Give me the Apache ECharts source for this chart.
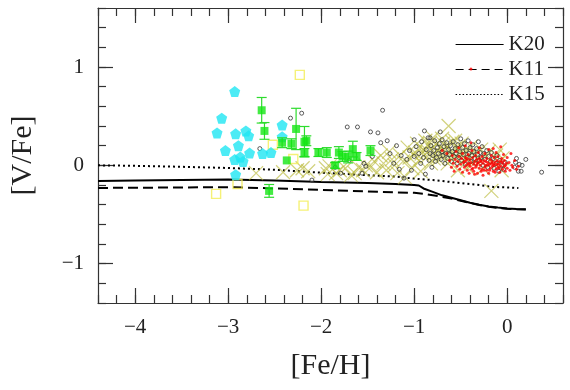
<!DOCTYPE html>
<html>
<head>
<meta charset="utf-8">
<script src="https://cdn.jsdelivr.net/npm/echarts@6/dist/echarts.min.js"></script>
<style>html,body{margin:0;padding:0;background:#fff}#c{width:570px;height:390px}</style>
</head>
<body>
<div id="c"></div>
<script>
// ---- axis ticks ----
const xMajorTicks = [-4, -3, -2, -1, 0];
const yMajorTicks = [-1, 0, 1];

// ---- model curves ----
const k20 = [[-4.4,-0.16],[-4.0,-0.155],[-3.5,-0.15],[-3.0,-0.145],[-2.5,-0.155],[-2.0,-0.17],[-1.5,-0.18],[-1.2,-0.19],[-1.0,-0.2],[-0.95,-0.205],[-0.9,-0.235],[-0.8,-0.27],[-0.7,-0.305],[-0.6,-0.33],[-0.5,-0.355],[-0.4,-0.38],[-0.3,-0.40],[-0.2,-0.418],[-0.1,-0.43],[0.0,-0.44],[0.1,-0.445],[0.2,-0.447]];
const k11 = [[-4.4,-0.23],[-4.0,-0.228],[-3.5,-0.225],[-3.0,-0.222],[-2.5,-0.235],[-2.0,-0.25],[-1.5,-0.265],[-1.2,-0.275],[-1.0,-0.28],[-0.9,-0.29],[-0.8,-0.305],[-0.7,-0.32],[-0.6,-0.338],[-0.5,-0.36],[-0.4,-0.383],[-0.3,-0.403],[-0.2,-0.42],[-0.1,-0.432],[0.0,-0.441],[0.1,-0.446],[0.2,-0.448]];
const k15 = [[-4.4,0.0],[-4.0,-0.005],[-3.5,-0.015],[-3.0,-0.027],[-2.5,-0.045],[-2.0,-0.075],[-1.5,-0.10],[-1.2,-0.115],[-1.0,-0.135],[-0.8,-0.15],[-0.6,-0.17],[-0.5,-0.18],[-0.3,-0.20],[-0.15,-0.22],[0.0,-0.225],[0.12,-0.23]];

// ---- observations ----
const cyanPent = [[-2.93,0.75],[-3.07,0.48],[-3.12,0.33],[-2.92,0.32],[-2.81,0.35],[-2.78,0.30],[-2.89,0.20],[-3.03,0.15],[-2.77,0.125],[-2.63,0.12],[-2.54,0.13],[-2.87,0.085],[-2.93,0.06],[-2.84,0.04],[-2.92,-0.095],[-2.42,0.41],[-2.42,0.29]];

const greenSq = [[-2.64,0.56,0.13],[-2.61,0.35,0.085],[-2.56,-0.26,0.065],[-2.42,0.23,0.05],[-2.37,0.05,0.0],[-2.32,0.22,0.05],[-2.27,0.37,0.21],[-2.18,0.24,0.155],[-2.16,0.25,0.05],[-2.18,0.13,0.04],[-2.03,0.13,0.04],[-1.94,0.13,0.05],[-1.85,0.0,0.03],[-1.81,0.13,0.06],[-1.77,0.09,0.05],[-1.71,0.085,0.06],[-1.66,0.165,0.08],[-1.62,0.09,0.04],[-1.47,0.15,0.05]];

const yellowSq = [[-2.23,0.92],[-3.13,-0.29],[-2.19,-0.41],[-2.90,-0.19],[-2.52,0.21],[-2.30,0.065]];

const oliveX = [[-2.70,-0.08],[-2.41,-0.07],[-2.26,-0.05],[-2.20,-0.03],[-2.14,-0.06],[-1.95,-0.03],[-1.91,-0.01],[-1.93,-0.09],[-1.84,-0.08],[-1.80,-0.05],[-1.74,-0.03],[-1.68,-0.10],[-1.64,-0.08],[-1.60,-0.02],[-1.55,-0.05],[-1.52,0.00],[-1.47,-0.02],[-1.43,0.04],[-1.40,-0.07],
[-1.36,0.10],[-1.33,0.02],[-1.30,-0.05],[-1.27,0.14],[-1.24,0.06],[-1.21,0.00],[-1.18,-0.08],[-1.15,0.10],[-1.12,0.04],[-1.10,-0.12],[-1.07,0.18],[-1.05,0.08],[-1.02,-0.03],[-0.99,0.13],[-0.97,0.22],[-0.95,0.05],[-0.93,-0.06],
[-0.90,0.16],[-0.88,0.25],[-0.86,0.09],[-0.84,0.19],[-0.82,0.02],[-0.80,0.28],[-0.78,0.12],[-0.76,0.22],[-0.74,0.06],[-0.72,0.17],[-0.70,0.27],[-0.68,0.10],[-0.66,0.20],[-0.64,0.02],[-0.63,0.40],[-0.61,0.14],[-0.59,0.24],[-0.57,0.08],[-0.55,0.18],[-0.53,-0.05],[-0.51,0.12],[-0.49,0.22],[-0.47,0.05],[-0.45,0.15],[-0.43,-0.02],[-0.41,0.10],[-0.39,0.19],[-0.37,0.03],
[-0.34,0.12],[-0.31,0.06],[-0.28,0.16],[-0.26,-0.03],[-0.23,0.09],[-0.20,0.14],[-0.17,-0.26],[-0.15,0.04],[-0.12,0.10],[-0.09,0.03],[-0.06,-0.05],[-0.08,0.16],[-0.05,0.07],
[-1.00,0.10],[-0.92,0.12],[-0.85,0.14],[-0.79,0.07],[-0.73,0.12],[-0.67,0.15],[-0.62,0.08],[-0.58,0.13],[-0.52,0.17],[-0.48,0.10],[-0.44,0.08],[-0.38,0.12],[-0.83,0.23],[-0.69,0.22],[-0.56,0.25]];

const blackCirc = [[-2.66,0.17],[-2.33,0.48],[-2.21,0.53],[-2.10,-0.15],[-1.79,-0.08],[-1.72,0.39],[-1.61,0.39],[-1.47,0.34],[-1.39,0.33],[-1.34,0.56],[-1.36,0.23],[-1.29,0.25],[-1.54,0.02],[-1.52,-0.01],[-1.56,-0.08],[-1.85,-0.02],[-1.70,0.05],[-1.45,0.09],[-1.26,0.12],[-1.22,0.02],[-1.19,0.20],[-1.16,-0.04],[-1.14,0.10],[-1.11,-0.13],[-1.08,0.06],[-1.05,0.15],[-1.03,-0.05],[-1.00,0.09],[-0.98,0.19],[-1.00,0.26],[-0.83,0.28],
[-0.95,0.12],[-0.93,0.02],[-0.92,0.24],[-0.90,0.08],[-0.89,0.35],[-0.88,-0.09],[-0.87,0.16],[-0.85,0.28],[-0.84,0.05],[-0.83,0.12],[-0.82,0.20],[-0.81,-0.02],[-0.80,0.10],[-0.79,0.15],[-0.78,0.25],[-0.77,0.04],[-0.76,0.08],[-0.75,0.18],[-0.74,0.12],[-0.73,0.22],[-0.72,0.34],[-0.71,0.06],[-0.70,0.14],[-0.70,0.26],[-0.69,0.10],[-0.68,0.19],[-0.67,0.02],[-0.66,0.12],[-0.65,0.23],[-0.64,0.07],[-0.63,0.16],[-0.62,0.11],[-0.61,0.20],[-0.60,0.04],[-0.59,0.14],[-0.58,0.24],[-0.57,0.09],[-0.56,0.17],[-0.55,0.12],[-0.54,0.02],[-0.53,0.21],[-0.52,0.08],[-0.51,0.14],[-0.50,0.27],[-0.49,0.05],[-0.48,0.18],[-0.47,0.11],[-0.46,0.22],[-0.45,0.01],[-0.44,0.15],[-0.43,0.08],[-0.42,0.25],[-0.41,0.12],[-0.40,0.18],[-0.39,0.04],[-0.38,0.10],[-0.37,0.21],[-0.36,0.14],[-0.35,0.07],[-0.34,0.02],[-0.33,0.17],[-0.32,0.11],[-0.31,0.24],[-0.30,0.05],[-0.29,0.13],[-0.28,0.08],[-0.27,0.19],[-0.26,0.00],[-0.25,0.12],[-0.24,0.06],[-0.22,0.15],[-0.21,-0.02],[-0.20,0.09],[-0.18,0.04],[-0.17,0.13],[-0.15,0.07],[-0.14,-0.03],[-0.12,0.02],[-0.11,0.10],[-0.09,-0.06],[-0.08,0.05],[-0.06,0.00],[-0.04,-0.04],[-0.02,0.03],
[0.08,-0.02],[0.09,0.03],[0.10,0.07],[0.12,-0.06],[0.13,0.01],[0.15,-0.06],[0.16,0.00],[0.20,0.06],[0.37,-0.07]];

const redDot = [[-0.62,0.05],[-0.60,-0.02],[-0.59,0.10],[-0.58,0.02],[-0.57,-0.06],[-0.56,0.06],[-0.55,0.14],[-0.54,-0.01],[-0.53,0.04],[-0.52,0.09],[-0.51,-0.04],[-0.50,0.01],[-0.49,0.07],[-0.48,-0.07],[-0.48,0.12],[-0.47,0.03],[-0.46,-0.02],[-0.45,0.08],[-0.44,0.00],[-0.44,0.05],[-0.43,-0.05],[-0.42,0.11],[-0.42,0.02],[-0.41,-0.08],[-0.40,0.06],[-0.40,-0.01],[-0.39,0.03],[-0.38,0.15],[-0.38,-0.04],[-0.37,0.08],[-0.36,0.01],[-0.36,-0.06],[-0.35,0.04],[-0.34,0.10],[-0.34,-0.02],[-0.33,0.06],[-0.32,-0.08],[-0.32,0.02],[-0.31,0.13],[-0.30,-0.03],[-0.30,0.07],[-0.29,0.00],[-0.28,0.04],[-0.28,-0.06],[-0.27,0.09],[-0.26,0.02],[-0.26,-0.10],[-0.25,0.05],[-0.24,-0.02],[-0.24,0.12],[-0.23,0.00],[-0.22,0.07],[-0.22,-0.05],[-0.21,0.03],[-0.20,0.16],[-0.20,-0.08],[-0.19,0.01],[-0.18,0.06],[-0.18,-0.03],[-0.17,0.10],[-0.16,-0.01],[-0.16,0.04],[-0.15,-0.06],[-0.14,0.08],[-0.14,0.00],[-0.13,0.03],[-0.12,-0.04],[-0.12,0.13],[-0.11,0.05],[-0.10,-0.02],[-0.10,0.09],[-0.09,0.01],[-0.08,-0.07],[-0.08,0.04],[-0.07,0.19],[-0.07,-0.01],[-0.06,0.07],[-0.05,0.02],[-0.05,-0.04],[-0.04,0.11],[-0.03,-0.01],[-0.03,0.05],[-0.02,-0.06],[-0.01,0.02],[0.00,0.08],[0.00,-0.03],[0.02,0.03],[0.03,-0.05],[0.04,0.12],[0.05,0.00],[0.06,-0.02],[0.08,0.05],[0.10,-0.04],[0.12,-0.01],[-0.65,0.12],[-0.70,0.15],[-0.52,0.18],[-0.45,0.20],[-0.30,0.18],[-0.15,0.17],[-0.39,0.23],[-0.39,0.98],
[-0.46,0.04],[-0.41,0.01],[-0.37,-0.03],[-0.33,0.00],[-0.29,0.05],[-0.25,-0.05],[-0.21,0.00],[-0.17,0.02],[-0.13,-0.07],[-0.11,0.01],[-0.06,0.04],[-0.02,0.00],[-0.35,-0.09],[-0.27,-0.04],[-0.19,-0.05],[-0.09,-0.03],[-0.43,0.07],[-0.31,0.03],[-0.23,0.04],[-0.15,0.01]];

const FONT = 'Liberation Serif';
const minusFmt = v => (v < 0 ? '\u2212' + Math.abs(v) : String(v));

const pentagon = 'path://M50,0 L97.6,34.5 L79.4,90.5 L20.6,90.5 L2.4,34.5 Z';
const xShape = 'path://M0,0 L10,10 M10,0 L0,10';

function xAxisDef(pos, major, showLabel, showName) {
  const base = {
    type: 'value', position: pos, min: -4.4, max: 0.6,
    splitLine: { show: false },
    axisLine: { show: major, onZero: false, lineStyle: { color: '#333', width: 1.2 } },
  };
  if (major) {
    base.axisTick = { show: true, inside: true, length: 15, customValues: xMajorTicks, lineStyle: { color: '#333', width: 1.2 } };
    base.axisLabel = { show: showLabel, customValues: xMajorTicks, formatter: minusFmt, margin: 14, fontFamily: FONT, fontSize: 21, color: '#222' };
  } else {
    base.interval = 0.2;
    base.axisTick = { show: true, inside: true, length: 8, lineStyle: { color: '#333', width: 1.2 } };
    base.axisLabel = { show: false };
  }
  if (showName) {
    base.name = '[Fe/H]';
    base.nameLocation = 'middle';
    base.nameGap = 48;
    base.nameTextStyle = { fontFamily: FONT, fontSize: 30, color: '#222' };
  }
  return base;
}
function yAxisDef(pos, major, showLabel, showName) {
  const base = {
    type: 'value', position: pos, min: -1.4, max: 1.6,
    splitLine: { show: false },
    axisLine: { show: major, onZero: false, lineStyle: { color: '#333', width: 1.2 } },
  };
  if (major) {
    base.axisTick = { show: true, inside: true, length: 15, customValues: yMajorTicks, lineStyle: { color: '#333', width: 1.2 } };
    base.axisLabel = { show: showLabel, customValues: yMajorTicks, formatter: minusFmt, margin: 14, fontFamily: FONT, fontSize: 21, color: '#222' };
  } else {
    base.interval = 0.2;
    base.axisTick = { show: true, inside: true, length: 8, lineStyle: { color: '#333', width: 1.2 } };
    base.axisLabel = { show: false };
  }
  if (showName) {
    base.name = '[V/Fe]';
    base.nameLocation = 'middle';
    base.nameGap = 60;
    base.nameTextStyle = { fontFamily: FONT, fontSize: 30, color: '#222' };
  }
  return base;
}

const chart = echarts.init(document.getElementById('c'), null, { renderer: 'canvas' });
chart.setOption({
  animation: false,
  backgroundColor: '#fff',
  grid: { left: 92, right: 7, top: 8, bottom: 87 },
  xAxis: [xAxisDef('bottom', true, true, true), xAxisDef('bottom', false), xAxisDef('top', true, false), xAxisDef('top', false)],
  yAxis: [yAxisDef('left', true, true, true), yAxisDef('left', false), yAxisDef('right', true, false), yAxisDef('right', false)],
  legend: {
    data: [
      { name: 'K20' },
      { name: 'K11', lineStyle: { type: [8, 5] } },
      { name: 'K15', lineStyle: { type: [1.5, 2] } }
    ],
    orient: 'vertical', left: 450, top: 29,
    itemWidth: 48, itemHeight: 12, itemGap: 4,
    textStyle: { fontFamily: FONT, fontSize: 21, color: '#222' },
    itemStyle: { opacity: 0 },
    lineStyle: { width: 1.2, color: '#000' }
  },
  series: [
    { name: 'K20', type: 'line', data: k20, symbol: 'none', z: 3, itemStyle: { color: '#000' }, lineStyle: { color: '#000', width: 2 } },
    { name: 'K11', type: 'line', data: k11, symbol: 'none', z: 3, itemStyle: { color: '#000' }, lineStyle: { color: '#000', width: 2, type: [10, 5] } },
    { name: 'K15', type: 'line', data: k15, symbol: 'none', z: 3, itemStyle: { color: '#000' }, lineStyle: { color: '#000', width: 2, type: [2, 3] } },
    { name: 'olive', type: 'scatter', data: oliveX, symbol: xShape, symbolSize: 14, z: 4,
      itemStyle: { color: 'none', borderColor: 'rgba(185,185,55,0.8)', borderWidth: 1.2 } },
    { name: 'black', type: 'scatter', data: blackCirc, symbol: 'circle', symbolSize: 4, z: 5,
      itemStyle: { color: 'rgba(255,255,255,0.3)', borderColor: '#333', borderWidth: 1 } },
    { name: 'red', type: 'scatter', data: redDot, symbol: 'circle', symbolSize: 3, z: 5,
      itemStyle: { color: '#ff0000' } },
    { name: 'yellow', type: 'scatter', data: yellowSq, symbol: 'rect', symbolSize: 9, z: 6,
      itemStyle: { color: 'none', borderColor: '#f2ee55', borderWidth: 1.4 } },
    { name: 'cyan', type: 'scatter', data: cyanPent, symbol: pentagon, symbolSize: 11, z: 7,
      itemStyle: { color: '#1fe6f2' } },
    { name: 'errbars', type: 'custom', data: greenSq, z: 8,
      renderItem: function (params, api) {
        const x = api.value(0), y = api.value(1), e = api.value(2);
        if (!e) return null;
        const t = api.coord([x, y + e]), b = api.coord([x, y - e]);
        const hw = 5;
        const st = { stroke: '#2ddc2d', lineWidth: 1.2 };
        return { type: 'group', children: [
          { type: 'line', shape: { x1: t[0], y1: t[1], x2: b[0], y2: b[1] }, style: st },
          { type: 'line', shape: { x1: t[0] - hw, y1: t[1], x2: t[0] + hw, y2: t[1] }, style: st },
          { type: 'line', shape: { x1: b[0] - hw, y1: b[1], x2: b[0] + hw, y2: b[1] }, style: st }
        ]};
      }
    },
    { name: 'green', type: 'scatter', data: greenSq, symbol: 'rect', symbolSize: 8, z: 9,
      itemStyle: { color: '#14e614' } }
  ]
});
</script>
</body>
</html>
